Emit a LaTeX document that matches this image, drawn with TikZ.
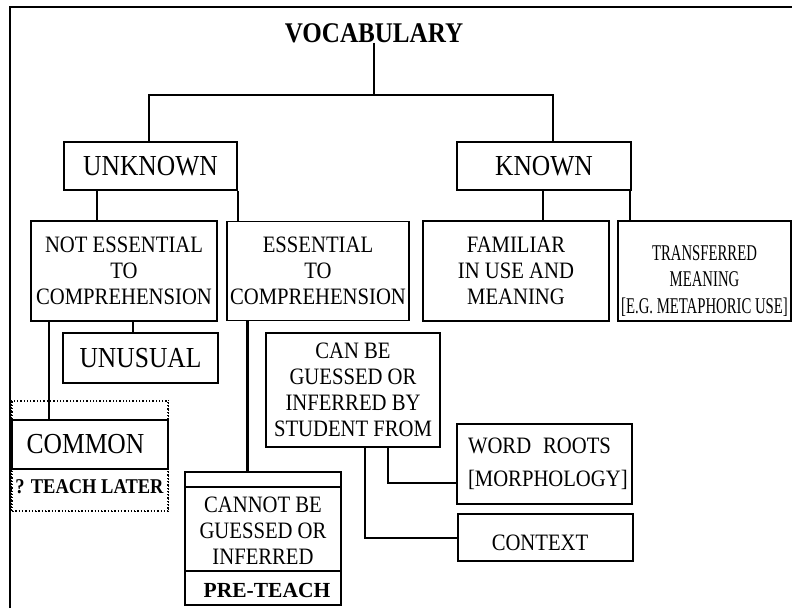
\documentclass[tikz,border=0pt]{standalone}
\usepackage{fontspec}
\setmainfont{Liberation Serif}[FakeStretch=0.88]
\newfontfamily\narrowfont{Liberation Serif}[FakeStretch=0.655]
\newfontfamily\plainfont{Liberation Serif}
\begin{document}
\begin{tikzpicture}[x=1pt,y=-1pt,
  box/.style={draw,line width=1.6pt,rectangle,inner sep=0pt,align=center,
    font=\fontsize{23.5}{26}\selectfont},
  bigbox/.style={box,font=\fontsize{29}{32}\selectfont},
  conn/.style={line width=2pt},
  thickconn/.style={line width=3pt},
  lbl/.style={inner sep=0pt,anchor=base}]
\useasboundingbox (0,0) rectangle (792,608);
% outer frame
\draw[line width=2.5pt] (10,608) -- (10,7) -- (795,7);

% title
\node[lbl,font=\bfseries\fontsize{28.5}{30}\selectfont] (vocab) at (374,42) {VOCABULARY};

% level 1
\node[bigbox,minimum width=173,minimum height=48] (unknown) at (150.5,166) {UNKNOWN};
\node[bigbox,minimum width=174,minimum height=48] (known) at (544,166) {KNOWN};

% level 2
\node[box,minimum width=186,minimum height=100] (notess) at (124,271)
  {NOT ESSENTIAL\\TO\\COMPREHENSION};
\node[box,minimum width=182,minimum height=99] (ess) at (318,271)
  {ESSENTIAL\\TO\\COMPREHENSION};
\node[box,minimum width=186,minimum height=100] (fam) at (516,271)
  {FAMILIAR\\IN USE AND\\MEANING};
\node[box,minimum width=173,minimum height=100] (trans) at (704.5,271) {};
\node[inner sep=0pt,align=center,font=\narrowfont\fontsize{22.5}{26.5}\selectfont]
  (transtxt) at (704.5,281)
  {TRANSFERRED\\MEANING\\{}[E.G. METAPHORIC USE]};

% level 3
\node[bigbox,minimum width=155,minimum height=50] (unusual) at (140.5,358) {UNUSUAL};
\node[draw,line width=1.3pt,dotted,minimum width=156,minimum height=110,inner sep=0pt]
  (commonzone) at (90,456) {};
\node[bigbox,minimum width=156,minimum height=49,fill=white] (common) at (90,444.5)
  {\hspace*{-9pt}COMMON};
\draw[line width=1.3pt,dotted] (commonzone.north west) -- (commonzone.south west)
  -- (commonzone.south east) -- (commonzone.north east);
\node[lbl,font=\bfseries\fontsize{21}{24}\selectfont] (later) at (89.5,493) {? TEACH LATER};

\node[box,minimum width=156,minimum height=133] (cannot) at (263,538.5) {};
\draw[line width=1.6pt] ([yshift=-16pt]cannot.north west) -- ([yshift=-16pt]cannot.north east);
\draw[line width=1.6pt] ([yshift=35pt]cannot.south west) -- ([yshift=35pt]cannot.south east);
\node[inner sep=0pt,align=center,font=\fontsize{23.5}{26}\selectfont] (cannottxt) at (263,531)
  {CANNOT BE\\GUESSED OR\\INFERRED};
\node[lbl,font=\plainfont\bfseries\fontsize{21.5}{24}\selectfont] (preteach) at (267,597) {PRE-TEACH};

\node[box,minimum width=174,minimum height=114] (canbe) at (353,390)
  {CAN BE\\GUESSED OR\\INFERRED BY\\STUDENT FROM};
\node[box,minimum width=175,minimum height=80,text width=153pt,inner xsep=11pt,align=left,
  font=\fontsize{23.5}{33}\selectfont] (roots) at (544.5,464)
  {WORD\hspace{12pt}ROOTS\\{}[MORPHOLOGY]};
\node[box,line width=2pt,minimum width=175,minimum height=47] (context) at (545.5,537.5)
  {\hspace*{-11pt}\raisebox{-5pt}[16pt][0pt]{CONTEXT}};

% connectors
\coordinate (j1) at (374,95);
\draw[conn] (vocab.south) -- (j1);
\draw[conn] ([xshift=-1.5pt]unknown.north) |- (j1) -| ([xshift=9pt]known.north);

\coordinate (u1) at ([xshift=-53.5pt]unknown.south);
\draw[conn] (u1) -- (u1 |- notess.north);
\draw[conn] (unknown.south east) -- (unknown.south east |- ess.north);
\coordinate (k1) at ([xshift=-1pt]known.south);
\draw[conn] (k1) -- (k1 |- fam.north);
\coordinate (k2) at ([xshift=-2pt]known.south east);
\draw[conn] (k2) -- (k2 |- trans.north);

\coordinate (n1) at ([xshift=9pt]notess.south);
\draw[conn] (n1) -- (n1 |- unusual.north);
\coordinate (n2) at ([xshift=-75pt]notess.south);
\draw[conn] (n2) -- (n2 |- common.north);

\coordinate (e1) at ([xshift=21pt]ess.south west);
\draw[thickconn] (e1) -- (e1 |- cannot.north);

\coordinate (c1) at ([xshift=35pt]canbe.south);
\draw[conn] (c1) |- ([yshift=-19pt]roots.west);
\coordinate (c2) at ([xshift=12pt]canbe.south);
\draw[conn] (c2) |- (context.west);
\end{tikzpicture}
\end{document}
